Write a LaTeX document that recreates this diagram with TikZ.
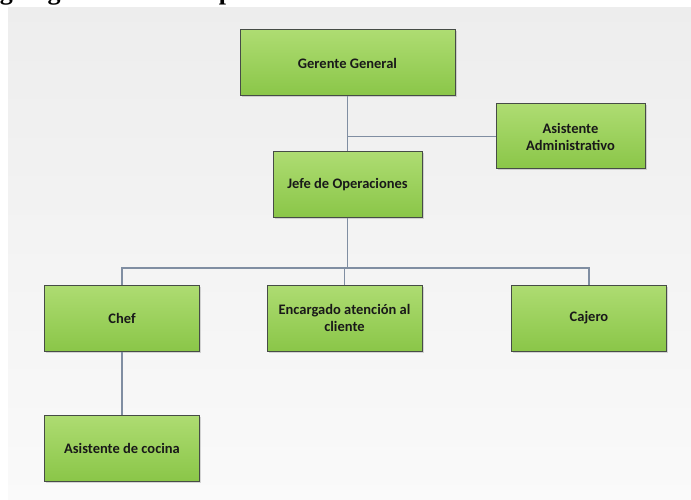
\documentclass[tikz,border=0pt]{standalone}
\usepackage{fontspec}
\newfontfamily\boxfont{Carlito}
\newfontfamily\titlefont{Liberation Serif}
\usetikzlibrary{shadows}
\definecolor{verdeA}{RGB}{174,220,114}
\definecolor{verdeB}{RGB}{138,198,72}
\definecolor{borde}{RGB}{70,76,70}
\definecolor{linea}{RGB}{128,142,162}

\begin{document}
\begin{tikzpicture}[x=1pt,y=-1pt,
  cargo/.style={draw=borde,line width=1pt,top color=verdeA,bottom color=verdeB,
    minimum width=155pt,minimum height=66pt,align=center,
    font=\boxfont\bfseries\fontsize{14.5}{17}\selectfont,text=black!90,
    drop shadow={shadow xshift=1.5pt,shadow yshift=-1.5pt,opacity=0.3}},
  enlace/.style={draw=linea,line width=1.4pt}]
  \useasboundingbox (0,0) rectangle (691,500);
  % fondo
  \shade[top color=black!7,bottom color=black!2] (8,8) rectangle (691,500);
  \node[anchor=base west,inner sep=0pt,font=\titlefont\bfseries\fontsize{26}{30}\selectfont] (titulo) at (-32,0) {Organigrama de la empresa};
  % cargos
  \node[cargo,minimum width=215pt] (ger) at (347.5,63) {Gerente General};
  \node[cargo,minimum width=149pt,minimum height=65pt] (asis) at (570.5,136.5) {Asistente\\Administrativo};
  \node[cargo,minimum width=149pt,minimum height=65pt] (jefe) at (347.5,184.5) {Jefe de Operaciones};
  \node[cargo] (chef) at (122,318) {Chef};
  \node[cargo] (enc) at (344.5,318) {Encargado atención al\\cliente};
  \node[cargo] (caj) at (589,318) {Cajero};
  \node[cargo] (cocina) at (122,448) {Asistente de cocina};
  % lineas
  \coordinate (bus) at (0,268);
  \draw[enlace] (ger) -- (jefe);
  \draw[enlace] (asis) -- (asis -| ger);
  \draw[enlace] (jefe) -- (jefe |- bus);
  \draw[enlace] (chef) -- (chef |- bus) -| (caj);
  \draw[enlace] (enc) -- (enc |- bus);
  \draw[enlace] (chef) -- (cocina);
\end{tikzpicture}
\end{document}
